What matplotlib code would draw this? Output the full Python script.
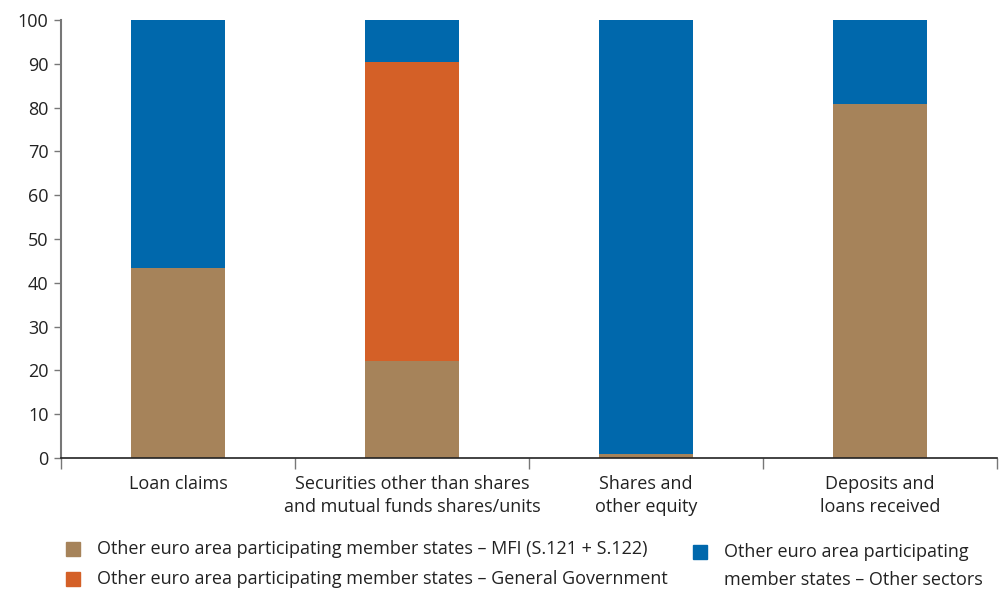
import matplotlib
matplotlib.use("Agg")
import matplotlib.pyplot as plt
from matplotlib.patches import Rectangle
import numpy as np

plt.rcParams['font.family'] = ['Open Sans', 'DejaVu Sans']

categories = ["Loan claims",
              "Securities other than shares\nand mutual funds shares/units",
              "Shares and\nother equity",
              "Deposits and\nloans received"]
mfi = [43.4, 22.1, 0.9, 80.8]
gov = [0.0, 68.3, 0.0, 0.0]
other = [56.6, 9.6, 99.1, 19.2]
series_labels = ["Other euro area participating member states \u2013 MFI (S.121 + S.122)",
                 "Other euro area participating member states \u2013 General Government",
                 "Other euro area participating\nmember states \u2013 Other sectors"]
colors = ["#A6835A", "#D46027", "#0068AC"]
yticks = [0, 10, 20, 30, 40, 50, 60, 70, 80, 90, 100]

W, H = 1005, 590
fig = plt.figure(figsize=(W/100, H/100), dpi=100)
ax = fig.add_axes([61/W, 1-458/H, (997-61)/W, (458-20)/H])

x = np.arange(len(categories))
bw = 0.40
ax.bar(x, mfi, bw, color=colors[0], linewidth=0)
ax.bar(x, gov, bw, bottom=mfi, color=colors[1], linewidth=0)
bottom2 = [a + b for a, b in zip(mfi, gov)]
ax.bar(x, other, bw, bottom=bottom2, color=colors[2], linewidth=0)

FS = 13
ax.set_xlim(-0.5, len(categories) - 0.5)
ax.set_ylim(0, 100)
ax.set_yticks(yticks)
ax.set_yticklabels([str(v) for v in yticks], fontsize=FS, color="#222222")
ax.tick_params(axis='y', length=5, width=1, color="#777777", pad=4)

ax.set_xticks(np.arange(len(categories) + 1) - 0.5)
ax.set_xticklabels([])
ax.tick_params(axis='x', which='major', length=8, width=1, color="#777777", direction='out')
ax.set_xticks(x, minor=True)
ax.set_xticklabels(categories, minor=True, fontsize=FS, color="#222222", linespacing=1.35)
ax.tick_params(axis='x', which='minor', length=0, pad=12)

for s in ['top', 'right']:
    ax.spines[s].set_visible(False)
ax.spines['left'].set_color("#777777")
ax.spines['left'].set_linewidth(1.5)
ax.spines['bottom'].set_color("#222222")
ax.spines['bottom'].set_linewidth(1.2)

# legend
items = [(66, 549, 0), (66, 579, 1), (693, 552, 2)]
for lx, ly, i in items:
    sq = 14
    fig.patches.append(Rectangle((lx/W, 1-(ly+sq/2)/H), sq/W, sq/H,
                                 transform=fig.transFigure, color=colors[i]))
    if i < 2:
        fig.text((lx+31)/W, 1-ly/H, series_labels[i], fontsize=FS, color="#222222",
                 va='center', ha='left')
    else:
        fig.text((lx+31)/W, 1-543/H, series_labels[i], fontsize=FS, color="#222222",
                 va='top', ha='left', linespacing=1.7)

fig.savefig("out.png", dpi=100)
